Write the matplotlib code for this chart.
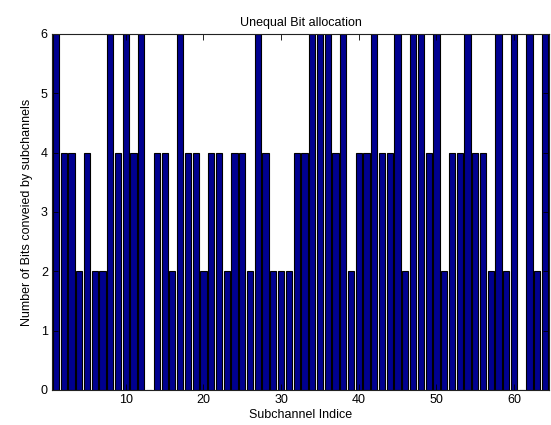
import numpy as np
import matplotlib
matplotlib.use("Agg")
import matplotlib.pyplot as plt

plt.rcParams['font.family'] = ['Liberation Sans', 'DejaVu Sans']

# ===== data =====
subchannels = np.arange(1, 65)
bits = [6, 4, 4, 2, 4, 2, 2, 6, 4, 6, 4, 6, 0, 4, 4, 2,
        6, 4, 4, 2, 4, 4, 2, 4, 4, 2, 6, 4, 2, 2, 2, 4,
        4, 6, 6, 6, 4, 6, 2, 4, 4, 6, 4, 4, 6, 2, 6, 6,
        4, 6, 2, 4, 4, 6, 4, 4, 2, 6, 2, 6, 0, 6, 2, 6]
x_ticks = [10, 20, 30, 40, 50, 60]
y_ticks = [0, 1, 2, 3, 4, 5, 6]

# ===== figure =====
fig = plt.figure(figsize=(5.51, 4.25), dpi=100)
ax = fig.add_axes([0.0944, 0.0824, 0.9020, 0.8376])

ax.bar(subchannels, bits, width=0.8, color="#000090",
       edgecolor="black", linewidth=0.8)

ax.set_xlim(0.5, 64.5)
ax.set_ylim(0, 6)
ax.set_xticks(x_ticks)
ax.set_yticks(y_ticks)

ax.tick_params(direction="in", top=True, right=True, length=4,
               width=0.6, labelsize=9, pad=3)
for s in ax.spines.values():
    s.set_linewidth(0.8)
    s.set_color("#222222")

ax.set_title("Unequal Bit allocation", fontsize=9, pad=6)
ax.set_xlabel("Subchannel Indice", fontsize=9, labelpad=2)
ax.set_ylabel("Number of Bits conveied by subchannels", fontsize=9, labelpad=6)

fig.savefig("out.png", dpi=100)
